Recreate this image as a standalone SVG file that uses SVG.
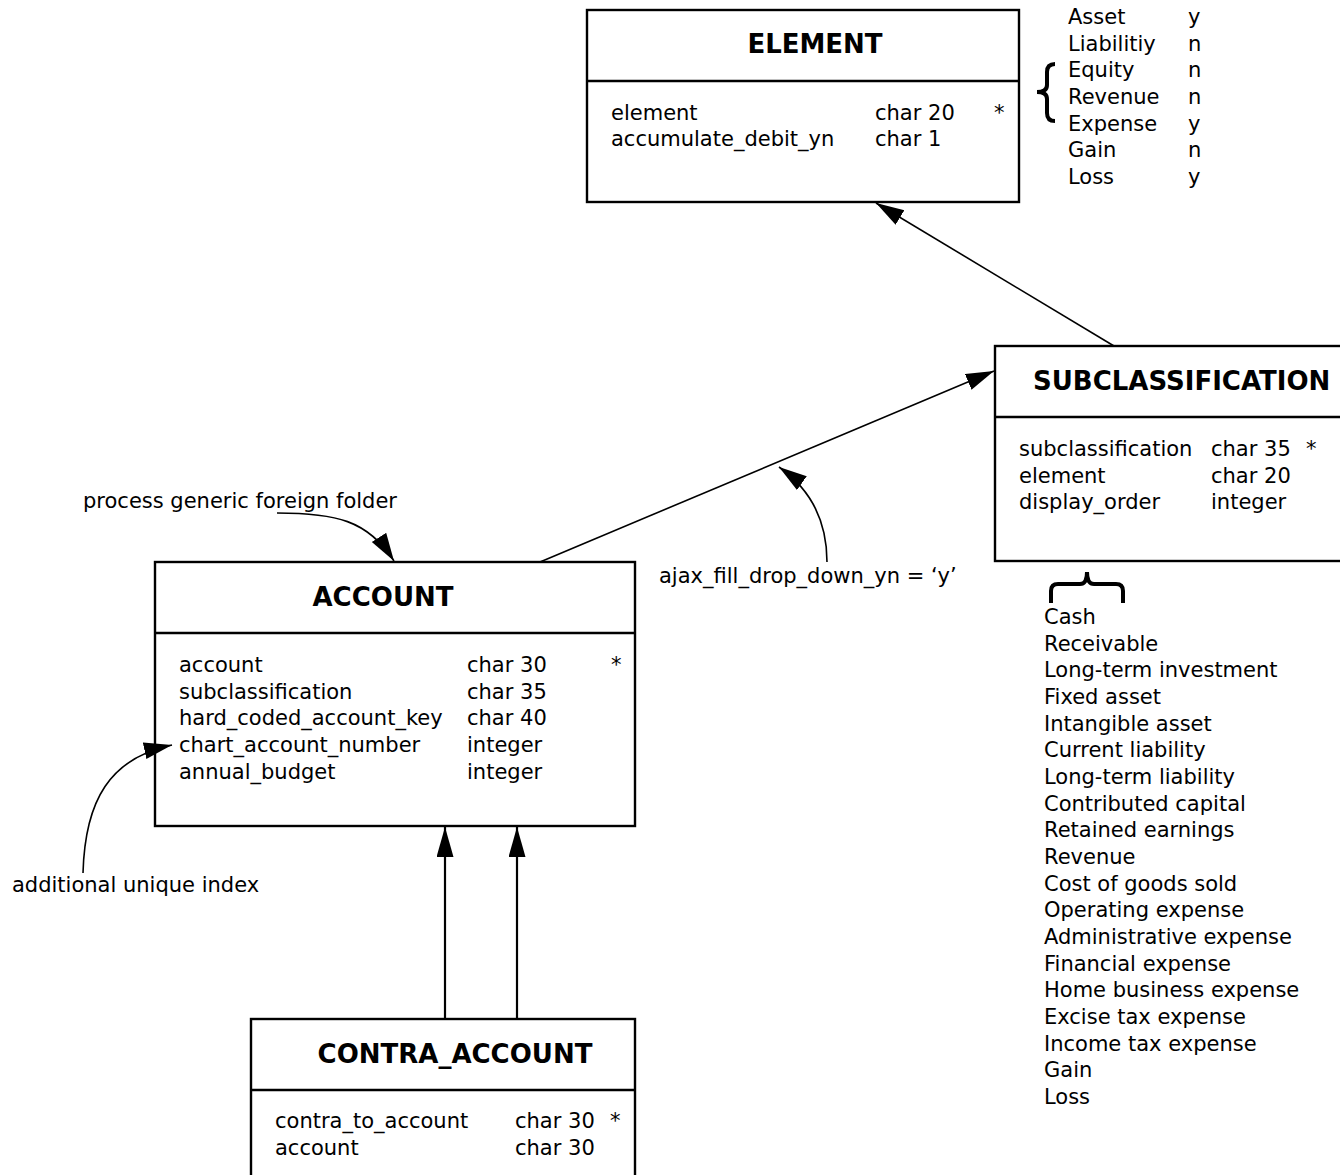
<svg xmlns="http://www.w3.org/2000/svg" width="1340" height="1175" viewBox="0 0 1340 1175">
<style>
text{font-family:"DejaVu Sans","Liberation Sans",sans-serif;font-size:21px;fill:#000}
.t{font-weight:bold;font-size:26px;text-anchor:middle}
.box{fill:#fff;stroke:#000;stroke-width:2.4}
.div{stroke:#000;stroke-width:2.4}
.c{fill:none;stroke:#000;stroke-width:1.6}
.v{fill:none;stroke:#000;stroke-width:2.2}
.br{fill:none;stroke:#000;stroke-width:4;stroke-linecap:butt}
</style>
<defs>
<marker id="ah" markerUnits="userSpaceOnUse" markerWidth="30" markerHeight="20" refX="28" refY="8.5" orient="auto">
<path d="M0,0 L28,8.5 L0,17 z" fill="#000"/>
</marker>
<marker id="ahv" markerUnits="userSpaceOnUse" markerWidth="32" markerHeight="20" refX="30" refY="8.5" orient="auto">
<path d="M0,0 L30,8.5 L0,17 z" fill="#000"/>
</marker>
</defs>
<rect width="1340" height="1175" fill="#fff"/>

<g id="element">
<rect class="box" x="587" y="10" width="432" height="192"/>
<line class="div" x1="587" y1="81" x2="1019" y2="81"/>
<text class="t" x="815" y="53">ELEMENT</text>
<text x="611" y="120">element</text>
<text x="875" y="120">char 20</text>
<text x="994" y="120">*</text>
<text x="611" y="146">accumulate_debit_yn</text>
<text x="875" y="146">char 1</text>
</g>

<g id="element-values">
<path class="br" d="M1055,64 Q1047,64 1047,72 L1047,85 Q1047,92 1037,92 Q1047,92 1047,99 L1047,113 Q1047,121 1055,121"/>
<text x="1068" y="24">Asset</text><text x="1188" y="24">y</text>
<text x="1068" y="51">Liabilitiy</text><text x="1188" y="51">n</text>
<text x="1068" y="77">Equity</text><text x="1188" y="77">n</text>
<text x="1068" y="104">Revenue</text><text x="1188" y="104">n</text>
<text x="1068" y="131">Expense</text><text x="1188" y="131">y</text>
<text x="1068" y="157">Gain</text><text x="1188" y="157">n</text>
<text x="1068" y="184">Loss</text><text x="1188" y="184">y</text>
</g>

<g id="subclassification">
<rect class="box" x="995" y="346" width="360" height="215"/>
<line class="div" x1="995" y1="417" x2="1340" y2="417"/>
<text class="t" x="1033" y="390" style="text-anchor:start">SUBCLASSIFICATION</text>
<text x="1019" y="456">subclassification</text>
<text x="1211" y="456">char 35</text>
<text x="1306" y="456">*</text>
<text x="1019" y="483">element</text>
<text x="1211" y="483">char 20</text>
<text x="1019" y="509">display_order</text>
<text x="1211" y="509">integer</text>
</g>

<g id="subclassification-values">
<path class="br" d="M1051,603 L1051,591 Q1051,584 1058,584 L1080,584 Q1087,584 1087,572 Q1087,584 1094,584 L1116,584 Q1123,584 1123,591 L1123,603"/>
<text x="1044" y="624">Cash</text>
<text x="1044" y="651">Receivable</text>
<text x="1044" y="677">Long-term investment</text>
<text x="1044" y="704">Fixed asset</text>
<text x="1044" y="731">Intangible asset</text>
<text x="1044" y="757">Current liability</text>
<text x="1044" y="784">Long-term liability</text>
<text x="1044" y="811">Contributed capital</text>
<text x="1044" y="837">Retained earnings</text>
<text x="1044" y="864">Revenue</text>
<text x="1044" y="891">Cost of goods sold</text>
<text x="1044" y="917">Operating expense</text>
<text x="1044" y="944">Administrative expense</text>
<text x="1044" y="971">Financial expense</text>
<text x="1044" y="997">Home business expense</text>
<text x="1044" y="1024">Excise tax expense</text>
<text x="1044" y="1051">Income tax expense</text>
<text x="1044" y="1077">Gain</text>
<text x="1044" y="1104">Loss</text>
</g>

<g id="account">
<rect class="box" x="155" y="562" width="480" height="264"/>
<line class="div" x1="155" y1="633" x2="635" y2="633"/>
<text class="t" x="383" y="606">ACCOUNT</text>
<text x="179" y="672">account</text><text x="467" y="672">char 30</text><text x="611" y="672">*</text>
<text x="179" y="699">subclassification</text><text x="467" y="699">char 35</text>
<text x="179" y="725">hard_coded_account_key</text><text x="467" y="725">char 40</text>
<text x="179" y="752">chart_account_number</text><text x="467" y="752">integer</text>
<text x="179" y="779">annual_budget</text><text x="467" y="779">integer</text>
</g>

<g id="contra_account">
<rect class="box" x="251" y="1019" width="384" height="200"/>
<line class="div" x1="251" y1="1090" x2="635" y2="1090"/>
<text class="t" x="455" y="1063">CONTRA_ACCOUNT</text>
<text x="275" y="1128">contra_to_account</text><text x="515" y="1128">char 30</text><text x="610" y="1128">*</text>
<text x="275" y="1155">account</text><text x="515" y="1155">char 30</text>
</g>

<g id="labels">
<text x="83" y="508">process generic foreign folder</text>
<text x="659" y="583">ajax_fill_drop_down_yn = ‘y’</text>
<text x="12" y="892">additional unique index</text>
</g>

<g id="connectors">
<line class="c" x1="1114" y1="346" x2="876" y2="203" marker-end="url(#ah)"/>
<line class="c" x1="540" y1="562" x2="994" y2="371" marker-end="url(#ah)"/>
<line class="v" x1="445" y1="1019" x2="445" y2="827" marker-end="url(#ahv)"/>
<line class="v" x1="517" y1="1019" x2="517" y2="827" marker-end="url(#ahv)"/>
<path class="c" d="M277,513 C335,513 368,520 394,561" marker-end="url(#ah)"/>
<path class="c" d="M827,562 C827,515 806,486 779,467" marker-end="url(#ah)"/>
<path class="c" d="M83,873 C85,800 110,758 172,745" marker-end="url(#ah)"/>
</g>
</svg>
